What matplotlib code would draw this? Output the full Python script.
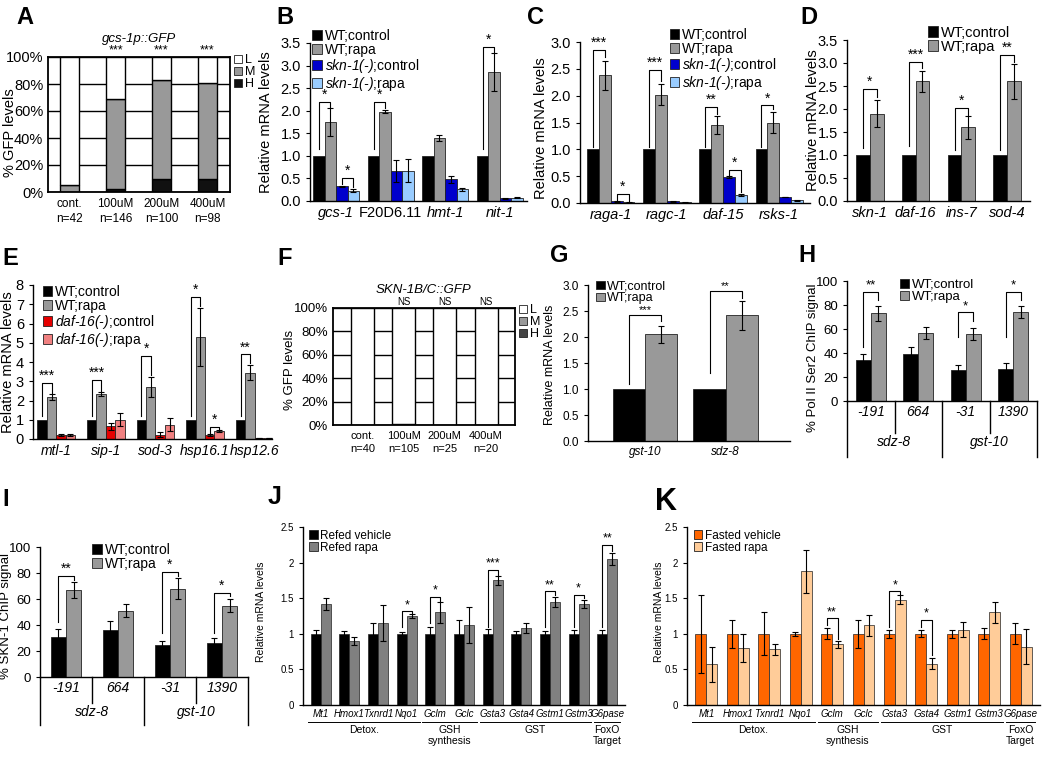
import numpy as np
import matplotlib
matplotlib.use('Agg')
import matplotlib.pyplot as plt
from matplotlib.patches import Patch

plt.rcParams['font.family'] = ['Liberation Sans', 'DejaVu Sans']
plt.rcParams['mathtext.fontset'] = 'custom'
# math text is only used for italic gene names inside legends
plt.rcParams['mathtext.it'] = 'Liberation Sans:italic'
plt.rcParams['mathtext.rm'] = 'Liberation Sans:italic'
plt.rcParams['axes.linewidth'] = 1.0

# ---- data ----
A_cats = ['cont.\nn=42', '100uM\nn=146', '200uM\nn=100', '400uM\nn=98']
A_H = [0, 2, 10, 10]
A_M = [5, 67, 73, 71]
A_L = [95, 31, 17, 19]
A_sig = ['', '***', '***', '***']

B_genes = ['gcs-1', 'F20D6.11', 'hmt-1', 'nit-1']
B_wt_ctrl = [1.0, 1.0, 1.0, 1.0]
B_wt_rapa = [1.75, 1.98, 1.40, 2.85]
B_wt_rapa_err = [0.30, 0.03, 0.07, 0.42]
B_skn_ctrl = [0.33, 0.66, 0.48, 0.06]
B_skn_ctrl_err = [0.01, 0.25, 0.08, 0.01]
B_skn_rapa = [0.23, 0.67, 0.26, 0.07]
B_skn_rapa_err = [0.04, 0.25, 0.03, 0.01]

C_genes = ['raga-1', 'ragc-1', 'daf-15', 'rsks-1']
C_wt_ctrl = [1.0, 1.0, 1.0, 1.0]
C_wt_rapa = [2.38, 2.02, 1.45, 1.50]
C_wt_rapa_err = [0.27, 0.19, 0.17, 0.20]
C_skn_ctrl = [0.03, 0.03, 0.48, 0.11]
C_skn_ctrl_err = [0.005, 0.005, 0.02, 0.005]
C_skn_rapa = [0.01, 0.01, 0.15, 0.05]
C_skn_rapa_err = [0.003, 0.003, 0.02, 0.005]

D_genes = ['skn-1', 'daf-16', 'ins-7', 'sod-4']
D_wt_ctrl = [1.0, 1.0, 1.0, 1.0]
D_wt_rapa = [1.90, 2.60, 1.60, 2.60]
D_wt_rapa_err = [0.30, 0.22, 0.25, 0.38]

E_genes = ['mtl-1', 'sip-1', 'sod-3', 'hsp16.1', 'hsp12.6']
E_wt_ctrl = [1.0, 1.0, 1.0, 1.0, 1.0]
E_wt_rapa = [2.20, 2.35, 2.70, 5.30, 3.45]
E_wt_rapa_err = [0.15, 0.10, 0.50, 1.50, 0.40]
E_daf_ctrl = [0.20, 0.65, 0.22, 0.22, 0.05]
E_daf_ctrl_err = [0.05, 0.20, 0.12, 0.05, 0.01]
E_daf_rapa = [0.22, 1.00, 0.75, 0.42, 0.05]
E_daf_rapa_err = [0.05, 0.35, 0.35, 0.04, 0.01]

F_cats = ['cont.\nn=40', '100uM\nn=105', '200uM\nn=25', '400uM\nn=20']
F_H = [0, 0, 0, 0]
F_M = [0, 1, 0, 0]
F_L = [100, 99, 100, 100]
F_sig = ['', 'NS', 'NS', 'NS']

G_genes = ['gst-10', 'sdz-8']
G_wt_ctrl = [1.0, 1.0]
G_wt_rapa = [2.05, 2.42]
G_wt_rapa_err = [0.16, 0.28]

H_sites = ['-191', '664', '-31', '1390']
H_genes = ['sdz-8', 'gst-10']
H_ctrl = [34, 39, 26, 27]
H_ctrl_err = [5, 6, 4, 5]
H_rapa = [73, 57, 56, 74]
H_rapa_err = [6, 5, 5, 5]

I_sites = ['-191', '664', '-31', '1390']
I_genes = ['sdz-8', 'gst-10']
I_ctrl = [31, 36, 25, 26]
I_ctrl_err = [6, 7, 3, 4]
I_rapa = [67, 51, 68, 55]
I_rapa_err = [6, 5, 8, 5]

JK_genes = ['Mt1', 'Hmox1', 'Txnrd1', 'Nqo1', 'Gclm', 'Gclc', 'Gsta3', 'Gsta4',
            'Gstm1', 'Gstm3', 'G6pase']
JK_groups = ['Detox.', 'GSH\nsynthesis', 'GST', 'FoxO\nTarget']
JK_group_span = [(0, 3), (4, 5), (6, 9), (10, 10)]
J_veh = [1.0] * 11
J_veh_err = [0.05, 0.04, 0.15, 0.02, 0.10, 0.20, 0.07, 0.04, 0.04, 0.05, 0.05]
J_rapa = [1.42, 0.90, 1.15, 1.25, 1.30, 1.12, 1.75, 1.08, 1.45, 1.42, 2.05]
J_rapa_err = [0.08, 0.06, 0.25, 0.03, 0.15, 0.25, 0.06, 0.07, 0.07, 0.06, 0.09]
K_veh = [1.0] * 11
K_veh_err = [0.55, 0.20, 0.30, 0.03, 0.08, 0.20, 0.06, 0.05, 0.06, 0.08, 0.15]
K_rapa = [0.57, 0.80, 0.78, 1.88, 0.85, 1.12, 1.48, 0.58, 1.06, 1.30, 0.82]
K_rapa_err = [0.25, 0.20, 0.08, 0.30, 0.05, 0.15, 0.06, 0.08, 0.10, 0.15, 0.25]

# colours
BLACK, GREY = '#000000', '#999999'
BLUE, LBLUE = '#0000CC', '#99CCFF'
RED, PINK = '#E60000', '#F08080'
ORANGE, PEACH = '#FF6600', '#FFCC99'

W, H = 1050, 762
fig = plt.figure(figsize=(W / 100, H / 100), dpi=100)


def axes_px(l, t, r, b):
    return fig.add_axes([l / W, 1 - b / H, (r - l) / W, (b - t) / H])


def label(x, y, s, **kw):
    fig.text(x / W, 1 - y / H, s, **kw)


def ylab(x, y, s, fs):
    label(x, y, s, rotation=90, ha='center', va='center', fontsize=fs)


def it(s):
    return '$' + s.replace('-', '\u2010') + '$'


def bars(ax, series, width, ew=0.6):
    n = len(series)
    for i, (vals, errs, col) in enumerate(series):
        x = np.arange(len(vals)) + (i - (n - 1) / 2) * width
        ax.bar(x, vals, width, color=col, edgecolor='#222222', linewidth=ew,
               yerr=errs, error_kw=dict(ecolor='black', elinewidth=0.8,
                                        capsize=2.2, capthick=0.8))


def sig(ax, xa, xb, ya, yb, top, text, fs=10):
    ax.plot([xa, xa, xb, xb], [ya, top, top, yb], color='black', lw=0.8)
    ax.text((xa + xb) / 2, top, text, ha='center', va='bottom', fontsize=fs)


def simple_style(ax, fs):
    for s in ['top', 'right']:
        ax.spines[s].set_visible(False)
    ax.tick_params(axis='y', direction='out', length=3, labelsize=fs)
    ax.tick_params(axis='x', length=0, labelsize=fs)


def sq_legend(ax, labels, colors, anchor, fs, spacing=0.0):
    handles = [Patch(facecolor=c, edgecolor='#222222', linewidth=0.6) for c in colors]
    ax.legend(handles, labels, loc='upper left', bbox_to_anchor=anchor,
              frameon=False, fontsize=fs, handlelength=0.7, handleheight=0.7,
              handletextpad=0.2, labelspacing=spacing, borderaxespad=0,
              borderpad=0)


def stacked(ax, Hv, Mv, Lv, cats, sigs, width, fs_cat, sig_fs):
    x = np.arange(len(Hv))
    ax.set_axisbelow(True)
    ax.yaxis.grid(True, color='black', lw=1.0)
    ax.bar(x, Hv, width, color='#111111', edgecolor='black', lw=1.0)
    ax.bar(x, Mv, width, bottom=Hv, color='#999999', edgecolor='black', lw=1.0)
    ax.bar(x, Lv, width, bottom=np.add(Hv, Mv), color='white', edgecolor='black', lw=1.0)
    ax.set_ylim(0, 100)
    ax.set_yticks(range(0, 101, 20))
    ax.set_yticklabels([f'{v}%' for v in range(0, 101, 20)])
    ax.set_xticks(x)
    ax.set_xticklabels(cats, fontsize=fs_cat, linespacing=1.4)
    ax.tick_params(axis='x', length=0, pad=4)
    ax.tick_params(axis='y', length=0)
    for sp in ax.spines.values():
        sp.set_linewidth(1.3)
    for i, s in enumerate(sigs):
        if s:
            ax.text(i, 100.5, s, ha='center', va='bottom', fontsize=sig_fs)


def panel(x, y, s, fs=17):
    label(x, y, s, fontsize=fs, fontweight='bold', ha='left', va='center')


# ---- A ----
ax = axes_px(48, 57, 230, 192)
stacked(ax, A_H, A_M, A_L, A_cats, A_sig, 0.41, 8.5, 9)
ax.set_xlim(-0.47, 3.49)
ax.tick_params(axis='y', labelsize=10.5)
ax.set_title('gcs-1p::GFP', style='italic', fontsize=9.5, pad=11)
sq_legend(ax, ['L', 'M', 'H'], ['white', '#999999', '#111111'], (1.02, 1.02), 9)
ylab(10, 133, '% GFP levels', 10.5)
panel(16, 18, 'A')

# ---- B ----
ax = axes_px(310, 43, 527, 201)
bars(ax, [(B_wt_ctrl, None, BLACK), (B_wt_rapa, B_wt_rapa_err, GREY),
          (B_skn_ctrl, B_skn_ctrl_err, BLUE), (B_skn_rapa, B_skn_rapa_err, LBLUE)], 0.21)
ax.set_xlim(-0.48, 3.5)
ax.set_ylim(0, 3.5)
ax.set_yticks(np.arange(0, 3.51, 0.5))
ax.set_yticklabels([f'{v:.1f}' for v in np.arange(0, 3.51, 0.5)])
ax.set_xticks(range(4))
ax.set_xticklabels(B_genes)
simple_style(ax, 10.5)
for t, g in zip(ax.get_xticklabels(), B_genes):
    if g != 'F20D6.11':
        t.set_style('italic')
sq_legend(ax, ['WT;control', 'WT;rapa', it('skn-1(-)') + ';control', it('skn-1(-)') + ';rapa'],
          [BLACK, GREY, BLUE, LBLUE], (0.01, 1.09), 10)
sig(ax, -0.315, -0.105, 1.15, 2.08, 2.2, '*')
sig(ax, 0.105, 0.315, 0.38, 0.3, 0.52, '*')
sig(ax, 0.685, 0.895, 1.15, 2.05, 2.2, '*')
sig(ax, 2.685, 2.895, 1.15, 3.3, 3.42, '*')
ylab(266, 122, 'Relative mRNA levels', 10.5)
panel(276, 18, 'B')

# ---- C ----
ax = axes_px(580, 42, 810, 203)
bars(ax, [(C_wt_ctrl, None, BLACK), (C_wt_rapa, C_wt_rapa_err, GREY),
          (C_skn_ctrl, C_skn_ctrl_err, BLUE), (C_skn_rapa, C_skn_rapa_err, LBLUE)], 0.21)
ax.set_xlim(-0.55, 3.55)
ax.set_ylim(0, 3.0)
ax.set_yticks(np.arange(0, 3.01, 0.5))
ax.set_yticklabels([f'{v:.1f}' for v in np.arange(0, 3.01, 0.5)])
ax.set_xticks(range(4))
ax.set_xticklabels(C_genes, style='italic')
simple_style(ax, 10.5)
sq_legend(ax, ['WT;control', 'WT;rapa', it('skn-1(-)') + ';control', it('skn-1(-)') + ';rapa'],
          [BLACK, GREY, BLUE, LBLUE], (0.39, 1.09), 10)
sig(ax, -0.315, -0.105, 1.05, 2.72, 2.85, '***')
sig(ax, 0.105, 0.315, 0.06, 0.04, 0.17, '*')
sig(ax, 0.685, 0.895, 1.05, 2.28, 2.48, '***')
sig(ax, 1.685, 1.895, 1.05, 1.65, 1.79, '**')
sig(ax, 2.105, 2.315, 0.52, 0.2, 0.62, '*')
sig(ax, 2.685, 2.895, 1.05, 1.75, 1.82, '*')
ylab(541, 128, 'Relative mRNA levels', 10.5)
panel(527, 18, 'C')

# ---- D ----
ax = axes_px(847, 40, 1030, 201)
bars(ax, [(D_wt_ctrl, None, BLACK), (D_wt_rapa, D_wt_rapa_err, GREY)], 0.3)
ax.set_xlim(-0.5, 3.5)
ax.set_ylim(0, 3.5)
ax.set_yticks(np.arange(0, 3.51, 0.5))
ax.set_yticklabels([f'{v:.1f}' for v in np.arange(0, 3.51, 0.5)])
ax.set_xticks(range(4))
ax.set_xticklabels(D_genes, style='italic')
simple_style(ax, 10.5)
sq_legend(ax, ['WT;control', 'WT;rapa'], [BLACK, GREY], (0.44, 1.09), 10.5)
sig(ax, -0.15, 0.15, 1.15, 2.26, 2.43, '*')
sig(ax, 0.85, 1.15, 1.2, 2.89, 3.02, '***')
sig(ax, 1.85, 2.15, 1.1, 1.87, 2.02, '*')
sig(ax, 2.85, 3.15, 1.1, 3.02, 3.17, '**')
ylab(813, 120, 'Relative mRNA levels', 10.5)
panel(800, 18, 'D')

# ---- E ----
ax = axes_px(33, 285, 272, 439)
bars(ax, [(E_wt_ctrl, None, BLACK), (E_wt_rapa, E_wt_rapa_err, GREY),
          (E_daf_ctrl, E_daf_ctrl_err, RED), (E_daf_rapa, E_daf_rapa_err, PINK)], 0.19)
ax.set_xlim(-0.47, 4.35)
ax.set_ylim(0, 8)
ax.set_yticks(range(0, 9))
ax.set_xticks(range(5))
ax.set_xticklabels(E_genes, style='italic')
simple_style(ax, 10.5)
ax.tick_params(axis='x', labelsize=10)
sq_legend(ax, ['WT;control', 'WT;rapa', it('daf-16(-)') + ';control', it('daf-16(-)') + ';rapa'],
          [BLACK, GREY, RED, PINK], (0.04, 1.0), 10)
sig(ax, -0.285, -0.095, 1.2, 2.4, 2.9, '***')
sig(ax, 0.715, 0.905, 1.2, 2.5, 3.06, '***')
sig(ax, 1.715, 1.905, 1.2, 3.3, 4.3, '*')
sig(ax, 2.715, 2.905, 1.2, 6.9, 7.4, '*')
sig(ax, 3.095, 3.285, 0.3, 0.48, 0.62, '*')
sig(ax, 3.715, 3.905, 1.2, 3.95, 4.4, '**')
ylab(8, 362, 'Relative mRNA levels', 10.5)
panel(2, 258, 'E')

# ---- F ----
ax = axes_px(333, 308, 515, 425)
stacked(ax, F_H, F_M, F_L, F_cats, F_sig, 0.56, 8, 7)
ax.set_xlim(-0.71, 3.7)
ax.tick_params(axis='y', labelsize=9.5)
ax.set_title('SKN-1B/C::GFP', style='italic', fontsize=9.5, pad=11)
sq_legend(ax, ['L', 'M', 'H'], ['white', '#999999', '#444444'], (1.02, 1.03), 9)
ylab(290, 370, '% GFP levels', 9.5)
panel(277, 258, 'F')

# ---- G ----
ax = axes_px(588, 285, 790, 441)
bars(ax, [(G_wt_ctrl, None, BLACK), (G_wt_rapa, G_wt_rapa_err, GREY)], 0.4)
ax.set_xlim(-0.71, 1.8)
ax.set_ylim(0, 3.0)
ax.set_yticks(np.arange(0, 3.01, 0.5))
ax.set_yticklabels([f'{v:.1f}' for v in np.arange(0, 3.01, 0.5)])
ax.set_xticks(range(2))
ax.set_xticklabels(G_genes, style='italic')
simple_style(ax, 8.5)
sq_legend(ax, ['WT;control', 'WT;rapa'], [BLACK, GREY], (0.04, 1.03), 9)
sig(ax, -0.2, 0.2, 1.1, 2.3, 2.42, '***', 8)
sig(ax, 0.8, 1.2, 1.3, 2.75, 2.88, '**', 8)
ylab(550, 365, 'Relative mRNA levels', 9)
panel(550, 255, 'G')


# ---- H / I (ChIP) ----
def chip(ax, ctrl, ctrl_err, rapa, rapa_err, sites, genes, width, fs, ys):
    bars(ax, [(ctrl, ctrl_err, BLACK), (rapa, rapa_err, GREY)], width)
    ax.set_xlim(-0.5, 3.5)
    ax.set_ylim(0, 100)
    ax.set_yticks(range(0, 101, 20))
    ax.set_xticks([])
    simple_style(ax, fs)
    tr = ax.get_xaxis_transform()
    y_site, y_gene, y_full, y_part = ys
    for i, s in enumerate(sites):
        ax.text(i, y_site, s, transform=tr, ha='center', va='center',
                style='italic', fontsize=fs + 0.5)
    for j, g in enumerate(genes):
        ax.text(2 * j + 0.5, y_gene, g, transform=tr, ha='center', va='center',
                style='italic', fontsize=fs + 0.5)
    for xv in [-0.5, 1.5, 3.5]:
        ax.plot([xv, xv], [0, y_full], transform=tr, color='black', lw=1.0, clip_on=False)
    for xv in [0.5, 2.5]:
        ax.plot([xv, xv], [0, y_part], transform=tr, color='black', lw=1.0, clip_on=False)


ax = axes_px(847, 281, 1037, 401)
chip(ax, H_ctrl, H_ctrl_err, H_rapa, H_rapa_err, H_sites, H_genes, 0.32, 9.5,
     (-0.09, -0.34, -0.47, -0.27))
sq_legend(ax, ['WT;control', 'WT;rapa'], [BLACK, GREY], (0.28, 1.02), 9.5)
sig(ax, -0.16, 0.16, 45, 84, 91, '**', 9.5)
sig(ax, 1.84, 2.16, 53, 67, 74, '*', 9.5)
sig(ax, 2.84, 3.16, 53, 84, 91, '*', 9.5)
ylab(813, 358, '% Pol II Ser2 ChIP signal', 9.5)
panel(798, 255, 'H')

ax = axes_px(40, 547, 248, 677)
chip(ax, I_ctrl, I_ctrl_err, I_rapa, I_rapa_err, I_sites, I_genes, 0.29, 9.5,
     (-0.085, -0.27, -0.37, -0.2))
sq_legend(ax, ['WT;control', 'WT;rapa'], [BLACK, GREY], (0.25, 1.03), 10)
sig(ax, -0.145, 0.145, 42, 75, 78, '**')
sig(ax, 1.855, 2.145, 34, 78, 81, '*')
sig(ax, 2.855, 3.145, 34, 62, 65, '*')
ylab(6, 616, '% SKN-1 ChIP signal', 9.5)
panel(2, 500, 'I')


# ---- J / K ----
def jk(ax, veh, veh_err, rapa, rapa_err, c1, c2, leg, anchor):
    bars(ax, [(veh, veh_err, c1), (rapa, rapa_err, c2)], 0.35, ew=0.5)
    ax.set_xlim(-0.62, 10.62)
    ax.set_ylim(0, 2.5)
    ax.set_yticks([0, 0.5, 1, 1.5, 2, 2.5])
    ax.set_yticklabels(['0', '0.5', '1', '1.5', '2', '2.5'])
    ax.set_xticks([])
    simple_style(ax, 7)
    tr = ax.get_xaxis_transform()
    for i, g in enumerate(JK_genes):
        ax.text(i, -0.05, g, transform=tr, ha='center', va='center',
                style='italic', fontsize=7)
    for (a, b), g in zip(JK_group_span, JK_groups):
        ax.plot([a - 0.45, b + 0.45], [-0.095, -0.095], transform=tr,
                color='black', lw=0.7, clip_on=False)
        ax.text((a + b) / 2, -0.115, g, transform=tr, ha='center', va='top',
                fontsize=7.5, linespacing=1.1)
    sq_legend(ax, leg, [c1, c2], anchor, 8.5)


ax = axes_px(303, 527, 625, 705)
jk(ax, J_veh, J_veh_err, J_rapa, J_rapa_err, BLACK, '#808080',
   ['Refed vehicle', 'Refed rapa'], (0.02, 0.985))
sig(ax, 2.825, 3.175, 1.1, 1.29, 1.32, '*', 9)
sig(ax, 3.825, 4.175, 1.15, 1.46, 1.52, '*', 9)
sig(ax, 5.825, 6.175, 1.1, 1.83, 1.9, '***', 9)
sig(ax, 7.825, 8.175, 1.1, 1.54, 1.6, '**', 9)
sig(ax, 8.825, 9.175, 1.1, 1.5, 1.55, '*', 9)
sig(ax, 9.825, 10.175, 1.1, 2.16, 2.25, '**', 9)
ylab(261, 612, 'Relative mRNA levels', 7.5)
panel(268, 497, 'J', 18)

ax = axes_px(687, 527, 1040, 705)
jk(ax, K_veh, K_veh_err, K_rapa, K_rapa_err, ORANGE, PEACH,
   ['Fasted vehicle', 'Fasted rapa'], (0.02, 0.985))
sig(ax, 3.825, 4.175, 1.12, 0.93, 1.22, '**', 9)
sig(ax, 5.825, 6.175, 1.1, 1.56, 1.6, '*', 9)
sig(ax, 6.825, 7.175, 1.1, 0.7, 1.2, '*', 9)
ylab(659, 612, 'Relative mRNA levels', 7.5)
panel(655, 502, 'K', 22)

fig.savefig('out.png', dpi=100)
